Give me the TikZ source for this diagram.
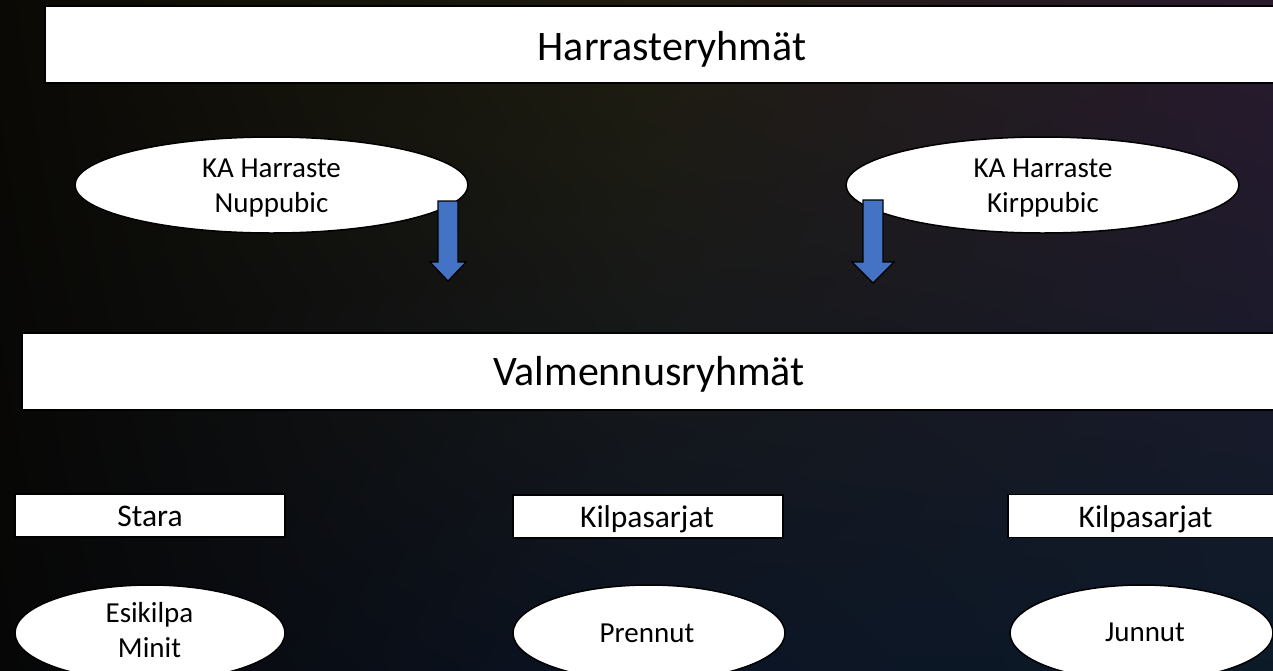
\documentclass[tikz,border=0pt]{standalone}
\usepackage{fontspec}
\setmainfont{Carlito}
\usetikzlibrary{shapes.geometric,shadings}
\definecolor{arrowblue}{HTML}{4472C4}
\definecolor{bgul}{HTML}{0A0905}
\definecolor{bgum}{HTML}{201D0E}
\definecolor{bgur}{HTML}{2A1A2E}
\definecolor{bgll}{HTML}{060606}
\definecolor{bglm}{HTML}{0C1424}
\definecolor{bglr}{HTML}{0C1A28}
\tikzset{
  bar/.style={draw=black, line width=1.5pt, fill=white, inner sep=0pt},
  oval/.style={ellipse, draw=black, line width=1.5pt, fill=white, inner sep=0pt},
  tag/.style={draw=black, line width=1.2pt, fill=white, inner sep=0pt},
  bartext/.style={anchor=base, inner sep=0pt, font=\fontsize{42}{50}\selectfont},
  ovaltext/.style={anchor=base, inner sep=0pt, font=\fontsize{29}{35}\selectfont},
  tagtext/.style={anchor=base, inner sep=0pt, font=\fontsize{31.5}{38}\selectfont},
  blockarrow/.style={draw=black, line width=1.2pt, fill=arrowblue, line join=miter}
}
\begin{document}
\begin{tikzpicture}[x=1pt,y=-1pt]
\useasboundingbox (0,0) rectangle (1273,670);
\clip (0,0) rectangle (1273,670);
% background
\shade[upper left=bgul, upper right=bgum, lower left=bgll, lower right=bglm] (0,0) rectangle (640,670);
\shade[upper left=bgum, upper right=bgur, lower left=bglm, lower right=bglr] (639.5,0) rectangle (1273,670);
% top bars
\node[bar, minimum width=1254pt, minimum height=77pt] (harr) at (672,44.5) {};
\node[bartext] (harrt) at (672,60) {Harrasteryhmät};
\node[bar, minimum width=1252pt, minimum height=77pt] (valm) at (648,371.5) {};
\node[bartext] (valmt) at (649,385) {Valmennusryhmät};
% top ellipses
\node[oval, minimum width=393pt, minimum height=96pt] (nupp) at (271.5,185) {};
\node[ovaltext] (nuppa) at (271.5,177) {KA Harraste};
\node[ovaltext] (nuppb) at (271.5,212) {Nuppubic};
\node[oval, minimum width=393pt, minimum height=96pt] (kirp) at (1042.5,185) {};
\node[ovaltext] (kirpa) at (1043,177) {KA Harraste};
\node[ovaltext] (kirpb) at (1043,212) {Kirppubic};
% block arrows
\coordinate (a1) at (448,201);
\coordinate (a2) at (873,200);
\draw[blockarrow] (a1) ++(-10,0) -- ++(20,0) -- ++(0,61) -- ++(8,0) -- ++(-18,19) -- ++(-18,-19) -- ++(8,0) -- cycle;
\draw[blockarrow] (a2) ++(-10,0) -- ++(20,0) -- ++(0,62) -- ++(11,0) -- ++(-21,21) -- ++(-21,-21) -- ++(11,0) -- cycle;
% bottom tags
\node[tag, minimum width=270pt, minimum height=43pt] (stara) at (150,515.5) {};
\node[tagtext] (starat) at (150,526) {Stara};
\node[tag, minimum width=270pt, minimum height=43pt] (kilp1) at (648,516.5) {};
\node[tagtext] (kilp1t) at (647,527.5) {Kilpasarjat};
\node[tag, minimum width=277pt, minimum height=43pt] (kilp2) at (1146.5,516) {};
\node[tagtext] (kilp2t) at (1145.5,527) {Kilpasarjat};
% bottom ellipses
\node[oval, minimum width=270pt, minimum height=96pt] (esik) at (150,633) {};
\node[ovaltext] (esika) at (149.5,622) {Esikilpa};
\node[ovaltext] (esikb) at (149.5,657) {Minit};
\node[oval, minimum width=272pt, minimum height=96pt] (pren) at (649,633) {};
\node[ovaltext] (prent) at (647,642) {Prennut};
\node[oval, minimum width=263pt, minimum height=96pt] (junn) at (1141.5,633) {};
\node[ovaltext] (junnt) at (1145,641) {Junnut};
\end{tikzpicture}
\end{document}
